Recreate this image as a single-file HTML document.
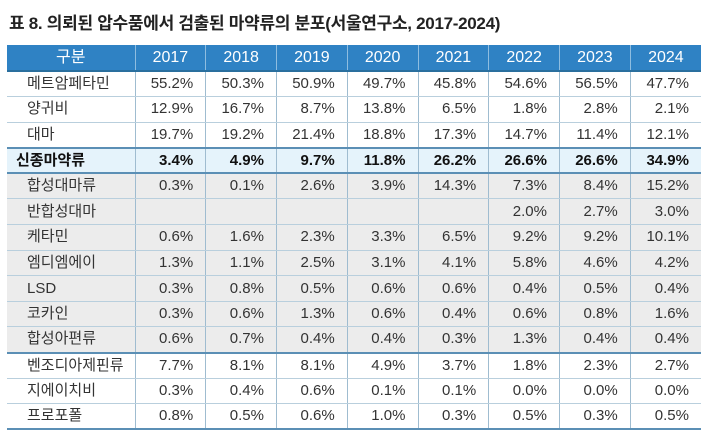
<!DOCTYPE html>
<html><head><meta charset="utf-8"><style>
body{margin:0;width:710px;height:442px;background:#fff;overflow:hidden;font-family:"Liberation Sans","Noto Sans CJK KR",sans-serif;}
h1{position:absolute;left:9px;top:9px;margin:0;font-size:17px;font-weight:bold;color:#222;letter-spacing:-0.3px;}
table{position:absolute;left:7px;top:45px;border-collapse:collapse;table-layout:fixed;width:694px;}
td,th{box-sizing:border-box;height:25.6px;padding:0;font-size:15px;color:#333;border-bottom:1px solid #b9cfdd;border-left:1px solid #9fbcd0;line-height:16px;}
td:first-child,th:first-child{border-left:none;}
th{height:26px;background:#2f82c4;color:#fff;font-weight:normal;font-size:16px;border-left:1px solid #8fbde0;border-bottom:2px solid #2a6f9e;}
td{text-align:right;padding-right:12px;}
td.l{text-align:left;padding-left:20px;padding-right:0;}
tr.hl td{background:#e5f3fb;font-weight:bold;color:#111;border-top:2px solid #5b8fb5;border-bottom:2px solid #5b8fb5;}
tr.hl td.l{padding-left:9px;}
tr.g td{background:#ececec;}
tr.after td{border-top:2px solid #5b8fb5;}
tr.last td{border-bottom:2px solid #5b8fb5;}
</style></head><body>
<h1>표 8. 의뢰된 압수품에서 검출된 마약류의 분포(서울연구소, 2017-2024)</h1>
<table>
<colgroup><col style="width:128px"><col span="8" style="width:70.75px"></colgroup>
<tr><th>구분</th><th>2017</th><th>2018</th><th>2019</th><th>2020</th><th>2021</th><th>2022</th><th>2023</th><th>2024</th></tr>
<tr><td class="l">메트암페타민</td><td>55.2%</td><td>50.3%</td><td>50.9%</td><td>49.7%</td><td>45.8%</td><td>54.6%</td><td>56.5%</td><td>47.7%</td></tr>
<tr><td class="l">양귀비</td><td>12.9%</td><td>16.7%</td><td>8.7%</td><td>13.8%</td><td>6.5%</td><td>1.8%</td><td>2.8%</td><td>2.1%</td></tr>
<tr><td class="l">대마</td><td>19.7%</td><td>19.2%</td><td>21.4%</td><td>18.8%</td><td>17.3%</td><td>14.7%</td><td>11.4%</td><td>12.1%</td></tr>
<tr class="hl"><td class="l">신종마약류</td><td>3.4%</td><td>4.9%</td><td>9.7%</td><td>11.8%</td><td>26.2%</td><td>26.6%</td><td>26.6%</td><td>34.9%</td></tr>
<tr class="g"><td class="l">합성대마류</td><td>0.3%</td><td>0.1%</td><td>2.6%</td><td>3.9%</td><td>14.3%</td><td>7.3%</td><td>8.4%</td><td>15.2%</td></tr>
<tr class="g"><td class="l">반합성대마</td><td></td><td></td><td></td><td></td><td></td><td>2.0%</td><td>2.7%</td><td>3.0%</td></tr>
<tr class="g"><td class="l">케타민</td><td>0.6%</td><td>1.6%</td><td>2.3%</td><td>3.3%</td><td>6.5%</td><td>9.2%</td><td>9.2%</td><td>10.1%</td></tr>
<tr class="g"><td class="l">엠디엠에이</td><td>1.3%</td><td>1.1%</td><td>2.5%</td><td>3.1%</td><td>4.1%</td><td>5.8%</td><td>4.6%</td><td>4.2%</td></tr>
<tr class="g"><td class="l">LSD</td><td>0.3%</td><td>0.8%</td><td>0.5%</td><td>0.6%</td><td>0.6%</td><td>0.4%</td><td>0.5%</td><td>0.4%</td></tr>
<tr class="g"><td class="l">코카인</td><td>0.3%</td><td>0.6%</td><td>1.3%</td><td>0.6%</td><td>0.4%</td><td>0.6%</td><td>0.8%</td><td>1.6%</td></tr>
<tr class="g"><td class="l">합성아편류</td><td>0.6%</td><td>0.7%</td><td>0.4%</td><td>0.4%</td><td>0.3%</td><td>1.3%</td><td>0.4%</td><td>0.4%</td></tr>
<tr class="after"><td class="l">벤조디아제핀류</td><td>7.7%</td><td>8.1%</td><td>8.1%</td><td>4.9%</td><td>3.7%</td><td>1.8%</td><td>2.3%</td><td>2.7%</td></tr>
<tr><td class="l">지에이치비</td><td>0.3%</td><td>0.4%</td><td>0.6%</td><td>0.1%</td><td>0.1%</td><td>0.0%</td><td>0.0%</td><td>0.0%</td></tr>
<tr class="last"><td class="l">프로포폴</td><td>0.8%</td><td>0.5%</td><td>0.6%</td><td>1.0%</td><td>0.3%</td><td>0.5%</td><td>0.3%</td><td>0.5%</td></tr>
</table>
</body></html>
